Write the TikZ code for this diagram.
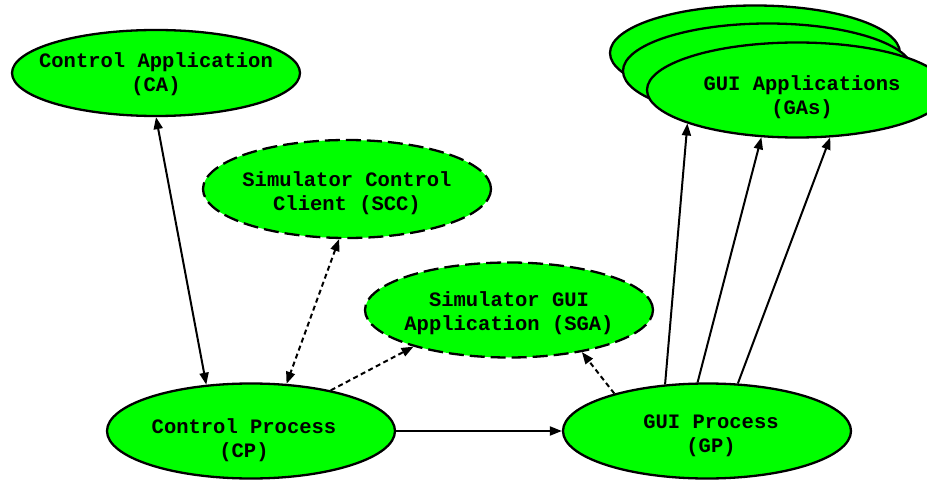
\documentclass[tikz,border=0pt]{standalone}
\usepackage{fontspec}
\usepackage{xcolor}
\usepackage{tikz}
\usetikzlibrary{shapes.geometric,arrows.meta}
\newfontfamily\codefont{Liberation Mono}
\definecolor{procgreen}{RGB}{0,255,0}
% two centred lines that do not widen the ellipse; #1 half x offset, #2 drop
\newcommand{\twoline}[4]{\raisebox{-#2}[0pt][0pt]{\makebox[0pt]{\hspace*{#1}\hspace*{#1}\begin{tabular}{@{}c@{}}#3\\#4\end{tabular}}}}
\tikzset{
  proc/.style={ellipse, draw, line width=2.3pt, fill=procgreen,
    minimum width=288pt, minimum height=95pt, inner sep=0pt,
    font=\codefont\bfseries\fontsize{20.5}{24}\selectfont},
  simproc/.style={proc, dash pattern=on 15pt off 6pt},
  link/.style={-{Triangle[length=12pt,width=9pt]}, line width=2pt},
  dlink/.style={link, dash pattern=on 5pt off 3.5pt},
}
\begin{document}
\begin{tikzpicture}[x=1pt,y=-1pt]
\useasboundingbox (0,0) rectangle (927,481);
% processes
\node[proc, minimum height=86pt] (ca) at (156,73) {\twoline{0pt}{7pt}{Control Application}{(CA)}};
\node[simproc, minimum height=98pt] (scc) at (347,189) {\twoline{0pt}{10pt}{Simulator Control}{Client (SCC)}};
\node[simproc] (sga) at (509,310) {\twoline{0pt}{9pt}{Simulator GUI}{Application (SGA)}};
\node[proc] (cp) at (251,431) {\twoline{-7pt}{15pt}{Control Process}{(CP)}};
\node[proc] (gp) at (707,431) {\twoline{4pt}{10pt}{GUI Process}{(GP)}};
% stack of gui applications
\node[proc, minimum width=290pt] (gaback) at (755,53) {};
\node[proc, minimum width=290pt] (gamid) at (768,71) {};
\node[proc, minimum width=300pt] (gas) at (797,90) {\twoline{5pt}{13pt}{GUI Applications}{(GAs)}};
% connectors
\draw[link, {Triangle[length=12pt,width=9pt]}-{Triangle[length=12pt,width=9pt]}] (ca.-90) -- (cp.134);
\draw[dlink, {Triangle[length=12pt,width=9pt]}-{Triangle[length=12pt,width=9pt]}] (scc.-99) -- (cp.53);
\draw[dlink] (cp.27) -- (sga.-159);
\draw[dlink] (gp.158) -- (sga.-30);
\draw[link] (cp.east) -- (gp.west);
\draw[link] (gp.132) -- (gas.197);
\draw[link] (gp.101) -- (gas.233);
\draw[link] (gp.57) -- (gas.-55);
\end{tikzpicture}
\end{document}
